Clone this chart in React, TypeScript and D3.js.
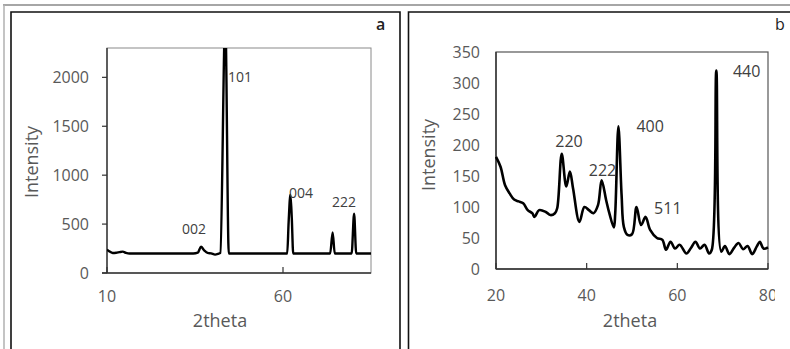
import * as d3 from 'd3';

// panel a: XRD pattern (2theta, intensity)
const twoThetaA = [10, 10.6, 11.6, 12.6, 13.6, 14.5, 15.4, 16.4, 20, 25, 30, 34.5, 35.8, 36.7, 37.6, 38.6, 39.6, 40.7, 41.6, 42.2, 43.6, 44.6, 45.5, 50, 55, 61.2, 61.6, 62.1, 62.5, 62.9, 64, 70, 73.4, 74.1, 74.7, 75.2, 79.5, 80.2, 80.8, 81.3, 85];
const intensityA = [240, 222, 205, 207, 214, 218, 206, 200, 200, 200, 200, 200, 208, 268, 232, 205, 200, 188, 196, 205, 2600, 200, 200, 200, 200, 200, 520, 800, 560, 200, 200, 200, 200, 415, 200, 200, 200, 605, 200, 200, 200];
const xTicksA = [10, 60];
const yTicksA = [0, 500, 1000, 1500, 2000];
const peakNamesA = ['002', '101', '004', '222'];
const peakXA = [34.7, 44.4, 61.7, 77.3];
const peakYA = [400, 1950, 765, 670];
const peakAnchorA = ['middle', 'start', 'start', 'middle'];

// panel b
const twoThetaB = [20, 21, 22, 23, 24, 25, 26, 27, 28, 28.5, 29.5, 31, 32, 33, 33.5, 34.5, 35.5, 36.3, 37, 38.4, 39.5, 40.5, 41.5, 42.5, 43.3, 44.3, 45, 46, 46.3, 47, 47.7, 48.2, 49, 50, 51, 52, 53, 54, 55.5, 56.7, 57.5, 58.5, 59.5, 60.5, 62, 63, 64, 65, 66, 67, 67.6, 68.6, 69.7, 70.5, 71.5, 72.5, 73.5, 74.5, 75.5, 76.5, 77.5, 78.2, 79, 80];
const intensityB = [181, 165, 135, 122, 112, 109, 106, 95, 90, 84, 95, 92, 87, 90, 98, 186, 133, 157, 130, 76, 100, 95, 90, 103, 143, 111, 90, 67, 90, 230, 120, 68, 55, 56, 100, 71, 84, 63, 50, 47, 31, 44, 33, 39, 25, 34, 44, 33, 39, 25, 31, 320, 28, 37, 24, 34, 42, 32, 37, 24, 36, 44, 33, 35];
const xTicksB = [20, 40, 60, 80];
const yTicksB = [0, 50, 100, 150, 200, 250, 300, 350];
const peakNamesB = ['220', '222', '400', '511', '440'];
const peakXB = [36.1, 43.5, 54.0, 57.9, 75.3];
const peakYB = [197, 150, 221, 89, 310];

const FONT = "'Open Sans', 'Liberation Sans', sans-serif";
const TICK = '#595959';
const LABEL = '#404040';

export default function App() {
  // panel a geometry
  const xa = d3.scaleLinear().domain([10, 85]).range([107, 371]);
  const ya = d3.scaleLinear().domain([0, 2300]).range([273, 48]);
  const lineA = d3
    .line<number>()
    .x((_, i) => xa(twoThetaA[i]))
    .y((d) => ya(d))
    .curve(d3.curveMonotoneX);

  // panel b geometry
  const xb = d3.scaleLinear().domain([20, 80]).range([496, 768]);
  const yb = d3.scaleLinear().domain([0, 350]).range([269, 52]);
  const lineB = d3
    .line<number>()
    .x((_, i) => xb(twoThetaB[i]))
    .y((d) => yb(d))
    .curve(d3.curveCatmullRom.alpha(0.5));

  return (
    <div style={{ position: 'fixed', left: 0, top: 0 }}>
      <svg width={790} height={349} style={{ display: 'block', background: '#fff' }}>
        <defs>
          <clipPath id="clipA">
            <rect x={xa(10)} y={ya(2300)} width={xa(85) - xa(10)} height={ya(0) - ya(2300)} />
          </clipPath>
          <clipPath id="clipB">
            <rect x={0} y={0} width={775} height={349} />
          </clipPath>
        </defs>

        {/* outer gray frame */}
        <line x1={3} x2={790} y1={5} y2={5} stroke="#a6a6a6" strokeWidth={2} />
        <line x1={4} x2={4} y1={5} y2={349} stroke="#b0b0b0" strokeWidth={1.5} />

        {/* panel boxes */}
        <path d="M11,349 V12 H400 V349" fill="none" stroke="#111" strokeWidth={1.6} />
        <path d="M408.5,349 V12 H795" fill="none" stroke="#111" strokeWidth={1.6} />
        <text x={376} y={30} fontFamily={FONT} fontSize={16} fontWeight={600} fill="#222">a</text>
        <text x={775} y={30} fontFamily={FONT} fontSize={16} fill="#222">b</text>

        {/* ===== panel a ===== */}
        <rect x={xa(10)} y={ya(2300)} width={xa(85) - xa(10)} height={ya(0) - ya(2300)} fill="none" stroke="#8a8a8a" strokeWidth={1} />
        <line x1={xa(10) - 5} x2={xa(85)} y1={ya(0)} y2={ya(0)} stroke="#333" strokeWidth={1.4} />
        <line x1={xa(10)} x2={xa(10)} y1={ya(0)} y2={ya(2300)} stroke="#333" strokeWidth={1.4} />
        {yTicksA.map((t) => (
          <g key={`ya${t}`}>
            <line x1={xa(10) - 5} x2={xa(10)} y1={ya(t)} y2={ya(t)} stroke="#333" strokeWidth={1.2} />
            <text x={89} y={ya(t)} dy="0.35em" textAnchor="end" fontFamily={FONT} fontSize={16} fill={TICK}>{t}</text>
          </g>
        ))}
        {xTicksA.map((t) => (
          <g key={`xa${t}`}>
            <line x1={xa(t)} x2={xa(t)} y1={ya(0)} y2={ya(0) - 6} stroke="#333" strokeWidth={1.2} />
            <text x={xa(t)} y={302} textAnchor="middle" fontFamily={FONT} fontSize={16} fill={TICK}>{t}</text>
          </g>
        ))}
        <text x={220} y={327} textAnchor="middle" fontFamily={FONT} fontSize={18} fill={TICK}>2theta</text>
        <text transform="translate(38,162) rotate(-90)" textAnchor="middle" fontFamily={FONT} fontSize={18} fill={TICK}>Intensity</text>
        <path d={lineA(intensityA) ?? ''} fill="none" stroke="#000" strokeWidth={2.4} strokeLinejoin="round" clipPath="url(#clipA)" />
        {peakNamesA.map((name, i) => (
          <text key={name + i} x={xa(peakXA[i])} y={ya(peakYA[i])} textAnchor={peakAnchorA[i]} fontFamily={FONT} fontSize={14} fill={LABEL}>{name}</text>
        ))}

        {/* ===== panel b ===== */}
        <rect x={xb(20)} y={yb(350)} width={xb(80) - xb(20)} height={yb(0) - yb(350)} fill="none" stroke="#555" strokeWidth={1.2} />
        <line x1={xb(20)} x2={xb(80)} y1={yb(0)} y2={yb(0)} stroke="#333" strokeWidth={1.4} />
        <line x1={xb(20)} x2={xb(20)} y1={yb(0)} y2={yb(350)} stroke="#333" strokeWidth={1.4} />
        {yTicksB.map((t) => (
          <text key={`yb${t}`} x={480} y={yb(t)} dy="0.35em" textAnchor="end" fontFamily={FONT} fontSize={16} fill={TICK}>{t}</text>
        ))}
        <g clipPath="url(#clipB)">
          {xTicksB.map((t) => (
            <g key={`xb${t}`}>
              <line x1={xb(t)} x2={xb(t)} y1={yb(0)} y2={yb(0) - 6} stroke="#333" strokeWidth={1.2} />
              <text x={xb(t)} y={301} textAnchor="middle" fontFamily={FONT} fontSize={16} fill={TICK}>{t}</text>
            </g>
          ))}
        </g>
        <text x={630} y={327} textAnchor="middle" fontFamily={FONT} fontSize={18} fill={TICK}>2theta</text>
        <text transform="translate(435,155) rotate(-90)" textAnchor="middle" fontFamily={FONT} fontSize={18} fill={TICK}>Intensity</text>
        <path d={lineB(intensityB) ?? ''} fill="none" stroke="#000" strokeWidth={2.6} strokeLinejoin="round" />
        {peakNamesB.map((name, i) => (
          <text key={name + i} x={xb(peakXB[i])} y={yb(peakYB[i])} textAnchor="middle" fontFamily={FONT} fontSize={16} fill={LABEL}>{name}</text>
        ))}
      </svg>
    </div>
  );
}
